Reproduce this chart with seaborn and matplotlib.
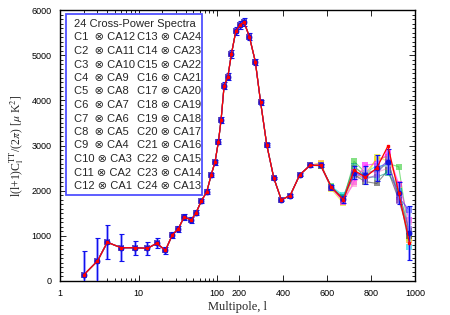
import numpy as np
import pandas as pd
import matplotlib
matplotlib.use("Agg")
import matplotlib.pyplot as plt
from matplotlib.patches import Rectangle
from matplotlib.ticker import FixedLocator, MultipleLocator, FuncFormatter, NullFormatter
import seaborn as sns

# multipole bins
ell = [2, 3, 4, 6, 9, 13, 17, 22, 27, 32, 38, 47, 54, 63, 74, 84, 94,
       106, 118, 132, 149, 165, 185, 205, 223, 247, 274, 298, 326, 358,
       392, 432, 476, 523, 571, 620, 674, 723, 774, 826, 877, 926, 974]

# mean of the cross spectra and its error
mean_cl = [133, 443, 857, 737, 737, 723, 834, 679, 1025, 1150, 1417, 1350,
           1512, 1771, 1977, 2347, 2628, 3084, 3558, 4324, 4523, 5019, 5528,
           5674, 5727, 5408, 4855, 3956, 3011, 2280, 1800, 1889, 2353, 2561,
           2561, 2074, 1810, 2398, 2347, 2494, 2641, 1950, 1070]
err_cl = [540, 520, 375, 300, 155, 145, 110, 80, 70, 60, 60, 60, 55, 55, 55,
          55, 55, 60, 70, 80, 80, 85, 90, 90, 90, 80, 70, 50, 40, 30, 30, 30,
          30, 35, 40, 55, 80, 150, 200, 290, 280, 250, 600]

# below l~550 all the cross spectra sit on top of each other
common_cl = mean_cl[:34]

# l = 571 ... 974, where the cross spectra spread out
hi_red     = [2561, 2074, 1800, 2450, 2300, 2500, 2990, 1950, 850]
hi_green   = [2550, 2100, 1780, 2650, 2400, 2450, 2600, 2530, 1000]
hi_orange  = [2620, 2050, 1850, 2500, 2380, 2700, 2750, 2100, 900]
hi_yellow  = [2580, 2030, 1720, 2350, 2250, 2750, 2650, 1900, 950]
hi_cyan    = [2560, 2090, 1900, 2300, 2400, 2550, 2550, 2000, 760]
hi_magenta = [2570, 2060, 1760, 2200, 2560, 2600, 2830, 2150, 1350]
hi_pink    = [2560, 2050, 1820, 2150, 2450, 2400, 2500, 1850, 1300]
hi_gray    = [2555, 2070, 1830, 2350, 2200, 2160, 2450, 1800, 1000]
hi_blue    = [2561, 2074, 1810, 2400, 2340, 2480, 2640, 1850, 1570]
hi_teal    = [2560, 2080, 1850, 2550, 2300, 2300, 2400, 2000, 1100]
hi_purple  = [2565, 2065, 1790, 2420, 2250, 2350, 2700, 1780, 1150]

series = {
    "green": hi_green, "orange": hi_orange, "yellow": hi_yellow,
    "cyan": hi_cyan, "magenta": hi_magenta, "pink": hi_pink,
    "gray": hi_gray, "blue": hi_blue, "teal": hi_teal, "purple": hi_purple,
}
colors = {
    "green": "#33cc33", "orange": "#ff9900", "yellow": "#eeee00",
    "cyan": "#00dddd", "magenta": "#ff00ff", "pink": "#ff88cc",
    "gray": "#444444", "blue": "#3333ff", "teal": "#009988", "purple": "#9933cc",
}

legend_left = ["C1  \u2297 CA12", "C2  \u2297 CA11", "C3  \u2297 CA10", "C4  \u2297 CA9",
               "C5  \u2297 CA8", "C6  \u2297 CA7", "C7  \u2297 CA6", "C8  \u2297 CA5",
               "C9  \u2297 CA4", "C10 \u2297 CA3", "C11 \u2297 CA2", "C12 \u2297 CA1"]
legend_right = ["C13 \u2297 CA24", "C14 \u2297 CA23", "C15 \u2297 CA22", "C16 \u2297 CA21",
                "C17 \u2297 CA20", "C18 \u2297 CA19", "C19 \u2297 CA18", "C20 \u2297 CA17",
                "C21 \u2297 CA16", "C22 \u2297 CA15", "C23 \u2297 CA14", "C24 \u2297 CA13"]

rows = []
for name, hi in series.items():
    for l, v in zip(ell, common_cl + hi):
        rows.append({"ell": l, "cl": v, "spec": name})
df = pd.DataFrame(rows)

# log axis up to l=100, linear after that
L_LIN = 2.52
def fwd(x):
    x = np.clip(np.asarray(x, dtype=float), 1e-3, None)
    return np.where(x <= 100, np.log10(x), 2 + (x - 100) / 900 * L_LIN)

def inv(y):
    y = np.asarray(y, dtype=float)
    return np.where(y <= 2, 10 ** np.minimum(y, 2), 100 + (y - 2) / L_LIN * 900)

sns.set_theme(style="ticks")
plt.rcParams["font.family"] = ["Liberation Sans", "DejaVu Sans"]
plt.rcParams["mathtext.fontset"] = "stix"

fig = plt.figure(figsize=(4.5, 3.15), dpi=100)
ax = fig.add_axes([60 / 450, 1 - 281 / 315, 355 / 450, 271 / 315])
ax.set_xscale("function", functions=(fwd, inv))

sns.lineplot(data=df, x="ell", y="cl", hue="spec", palette=colors,
             marker="s", markersize=4, markeredgewidth=0, linewidth=0.8,
             alpha=0.6, legend=False, ax=ax, errorbar=None, sort=False)

# error bars of the mean
ax.errorbar(ell, mean_cl, yerr=err_cl, fmt="none", ecolor="#8888ff",
            elinewidth=2.2, alpha=0.7, zorder=4)
ax.errorbar(ell, mean_cl, yerr=err_cl, fmt="o", color="#1010dd", ms=3.2,
            ecolor="#1010ee", elinewidth=0.8, capsize=1.8, capthick=0.8,
            zorder=5)
ax.plot(ell, common_cl + hi_red, color="red", lw=0.9, marker="s", ms=2,
        zorder=6)

ax.set_xlim(1, 1000)
ax.set_ylim(0, 6000)
ax.xaxis.set_major_locator(FixedLocator([1, 10, 100, 200, 400, 600, 800, 1000]))
ax.xaxis.set_minor_locator(FixedLocator([2, 3, 4, 5, 6, 7, 8, 9,
                                         20, 30, 40, 50, 60, 70, 80, 90]))
ax.xaxis.set_major_formatter(FuncFormatter(lambda v, p: f"{v:g}"))
ax.xaxis.set_minor_formatter(NullFormatter())
ax.yaxis.set_major_locator(MultipleLocator(1000))
ax.yaxis.set_minor_locator(MultipleLocator(100))
ax.tick_params(which="both", direction="in", top=True, right=True,
               labelsize=6.5, width=0.6, pad=6, colors="black")
ax.tick_params(which="major", length=4)
ax.tick_params(which="minor", length=2)
for s in ax.spines.values():
    s.set_linewidth(1.0)
    s.set_color("black")

ax.set_xlabel("Multipole, l", family="Liberation Serif", fontsize=9, labelpad=2)
ax.set_ylabel(r"l(l+1)C$_\mathrm{l}^\mathrm{TT}$/(2$\pi$) [$\mu$ K$^2$]",
              family="Liberation Serif", fontsize=8.5, labelpad=4)

# legend box
ax.add_patch(Rectangle((0.0183, 0.3155), 0.3817, 0.6695, transform=ax.transAxes,
                       fill=True, facecolor="white", edgecolor="#5050ff",
                       linewidth=1.3, zorder=7))
def yfrac(py):
    return (281 - py) / 271
def xfrac(px):
    return (px - 60) / 355
fam = ["Liberation Sans", "DejaVu Sans"]
ax.text(xfrac(74), yfrac(24), "24 Cross-Power Spectra", transform=ax.transAxes,
        fontsize=8.0, family=fam, va="center", ha="left", zorder=8)
for i, (a, b) in enumerate(zip(legend_left, legend_right)):
    y = yfrac(24 + 13.5 * (i + 1))
    ax.text(xfrac(74), y, a, transform=ax.transAxes, fontsize=8.0, family=fam,
            va="center", ha="left", zorder=8)
    ax.text(xfrac(137), y, b, transform=ax.transAxes, fontsize=8.0, family=fam,
            va="center", ha="left", zorder=8)

fig.savefig("out.png", dpi=100)
